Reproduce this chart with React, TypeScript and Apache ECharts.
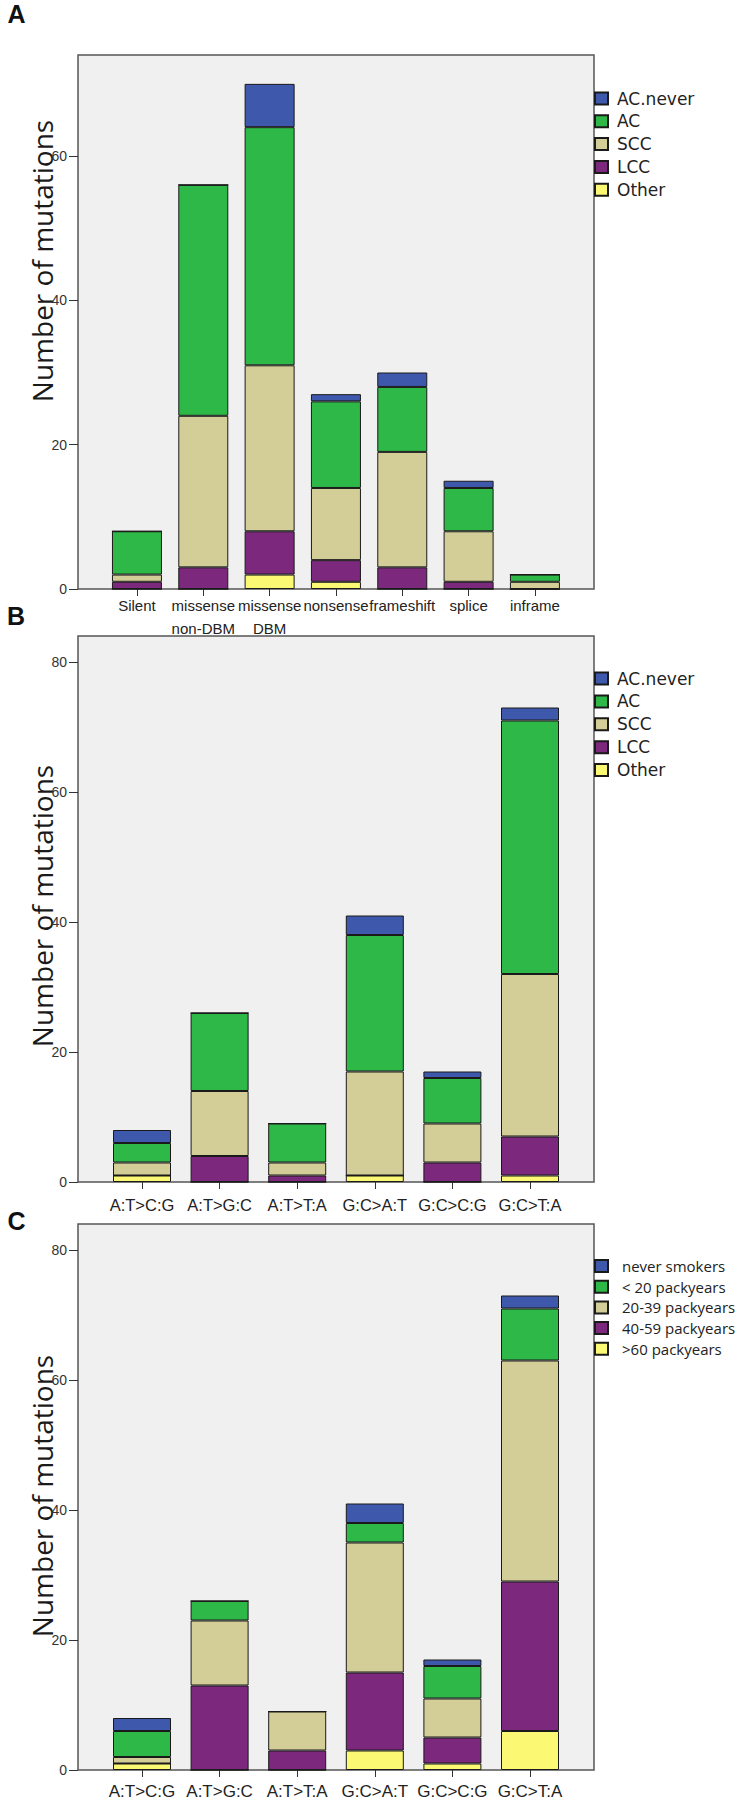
import { useEffect, useRef } from "react";
import * as echarts from "echarts";

// ---------- Panel A: mutation type by histology ----------
const mutationTypes = ["Silent", "missense\nnon-DBM", "missense\nDBM", "nonsense", "frameshift", "splice", "inframe"];
const histologyNames = ["AC.never", "AC", "SCC", "LCC", "Other"]; // legend order (top of stack first)
const typeACnever = [0, 0, 6, 1, 2, 1, 0];
const typeAC = [6, 32, 33, 12, 9, 6, 1];
const typeSCC = [1, 21, 23, 10, 16, 7, 1];
const typeLCC = [1, 3, 6, 3, 3, 1, 0];
const typeOther = [0, 0, 2, 1, 0, 0, 0];

// ---------- Panel B: base substitution by histology ----------
const substitutions = ["A:T>C:G", "A:T>G:C", "A:T>T:A", "G:C>A:T", "G:C>C:G", "G:C>T:A"];
const subACnever = [2, 0, 0, 3, 1, 2];
const subAC = [3, 12, 6, 21, 7, 39];
const subSCC = [2, 10, 2, 16, 6, 25];
const subLCC = [0, 4, 1, 0, 3, 6];
const subOther = [1, 0, 0, 1, 0, 1];

// ---------- Panel C: base substitution by smoking ----------
const smokingNames = ["never smokers", "< 20 packyears", "20-39 packyears", "40-59 packyears", ">60 packyears"];
const smkNever = [2, 0, 0, 3, 1, 2];
const smkLt20 = [4, 3, 0, 3, 5, 8];
const smk20to39 = [1, 10, 6, 20, 6, 34];
const smk40to59 = [0, 13, 3, 12, 4, 23];
const smkGt60 = [1, 0, 0, 3, 1, 6];

const yTicksA = [0, 20, 40, 60];
const yTicksBC = [0, 20, 40, 60, 80];
const yMaxA = 74;
const yMaxBC = 84;

const palette = ["#3E58AC", "#2EB848", "#D3CE97", "#7C287D", "#FBF873"];

const narrow = "'Liberation Sans', Arial, sans-serif";

function stackSeries(
  names: string[],
  values: number[][],
  stack: string,
  axisIndex: number,
  barWidth: number
) {
  // names/values given top-of-stack first; ECharts stacks first series at bottom
  const out: any[] = [];
  for (let i = names.length - 1; i >= 0; i--) {
    out.push({
      type: "bar",
      name: names[i],
      stack,
      xAxisIndex: axisIndex,
      yAxisIndex: axisIndex,
      barWidth,
      data: values[i],
      itemStyle: { color: palette[i], borderColor: "#1a1a1a", borderWidth: 1 },
      emphasis: { disabled: true },
    });
  }
  return out;
}

function frameGrid(top: number, height: number) {
  return {
    left: 78,
    top,
    width: 516,
    height,
    show: true,
    backgroundColor: "#F0F0F0",
    borderColor: "#555555",
    borderWidth: 1.5,
    outerBoundsMode: "none",
  };
}

function barGrid(left: number, top: number, width: number, height: number) {
  return { left, top, width, height, outerBoundsMode: "none" };
}

function frameY(gridIndex: number, max: number, ticks: number[]) {
  return {
    gridIndex,
    type: "value",
    min: 0,
    max,
    axisLine: { show: false },
    axisTick: { show: true, length: 9, customValues: ticks, lineStyle: { color: "#333", width: 1 } },
    axisLabel: { customValues: ticks, margin: 11, fontSize: 14, color: "#333", fontFamily: narrow },
    splitLine: { show: false },
  };
}

function barX(gridIndex: number, data: string[], margin: number, fontSize: number) {
  return {
    gridIndex,
    type: "category",
    data,
    axisLine: { show: false },
    axisTick: { show: true, alignWithLabel: true, length: 7, lineStyle: { color: "#333", width: 1 } },
    axisLabel: { interval: 0, fontSize, lineHeight: 23, margin, color: "#222", fontFamily: narrow },
  };
}

function legendAt(names: string[], top: number, fontSize: number, gap: number, textPad: number, family: string) {
  return {
    data: names,
    orient: "vertical",
    left: 594,
    top,
    padding: 0,
    icon: "rect",
    itemWidth: 13,
    itemHeight: 12,
    itemGap: gap,
    selectedMode: false,
    textStyle: {
      fontFamily: family,
      fontSize,
      lineHeight: 12,
      color: "#222",
      padding: [0, 0, 0, textPad],
    },
  };
}

function panelLetter(text: string, x: number, y: number) {
  return {
    type: "text",
    x,
    y,
    style: {
      text,
      fontSize: 25,
      fontWeight: "bold",
      fontFamily: "'Liberation Sans', Arial, sans-serif",
      fill: "#111",
      align: "center",
      verticalAlign: "middle",
    },
  };
}

function axisTitle(y: number) {
  return {
    type: "text",
    x: 42,
    y,
    rotation: Math.PI / 2,
    style: {
      text: "Number of mutations",
      fontSize: 28,
      fontFamily: "'Open Sans', sans-serif",
      fill: "#1a1a1a",
      align: "center",
      verticalAlign: "middle",
    },
  };
}

export default function App() {
  const ref = useRef<HTMLDivElement>(null);

  useEffect(() => {
    if (!ref.current) return;
    const chart = echarts.init(ref.current, null, { renderer: "svg" });

    const option: any = {
      animation: false,
      backgroundColor: "#ffffff",
      grid: [
        frameGrid(55, 534),
        barGrid(103.8, 55, 464.3, 534),
        frameGrid(636, 546),
        barGrid(103.2, 636, 465.6, 546),
        frameGrid(1224, 546),
        barGrid(103.2, 1224, 465.6, 546),
      ],
      xAxis: [
        { gridIndex: 0, type: "value", show: false },
        barX(1, mutationTypes, 5, 15),
        { gridIndex: 2, type: "value", show: false },
        barX(3, substitutions, 11, 16.5),
        { gridIndex: 4, type: "value", show: false },
        barX(5, substitutions, 10, 17),
      ],
      yAxis: [
        frameY(0, yMaxA, yTicksA),
        { gridIndex: 1, type: "value", min: 0, max: yMaxA, show: false },
        frameY(2, yMaxBC, yTicksBC),
        { gridIndex: 3, type: "value", min: 0, max: yMaxBC, show: false },
        frameY(4, yMaxBC, yTicksBC),
        { gridIndex: 5, type: "value", min: 0, max: yMaxBC, show: false },
      ],
      legend: [
        legendAt(histologyNames, 90, 17, 5.8, 4, "'DejaVu Sans', sans-serif"),
        legendAt(histologyNames, 670, 17, 5.9, 4, "'DejaVu Sans', sans-serif"),
        legendAt(smokingNames, 1258.5, 15, 5.7, 9, "'Open Sans', sans-serif"),
      ],
      series: [
        ...stackSeries(histologyNames, [typeACnever, typeAC, typeSCC, typeLCC, typeOther], "A", 1, 50),
        ...stackSeries(histologyNames, [subACnever, subAC, subSCC, subLCC, subOther], "B", 3, 58),
        ...stackSeries(smokingNames, [smkNever, smkLt20, smk20to39, smk40to59, smkGt60], "C", 5, 58),
      ],
      graphic: [
        panelLetter("A", 16.5, 14),
        panelLetter("B", 16, 615.5),
        panelLetter("C", 16.5, 1221),
        axisTitle(261),
        axisTitle(906),
        axisTitle(1496),
      ],
    };

    chart.setOption(option);
    return () => chart.dispose();
  }, []);

  return (
    <div
      ref={ref}
      style={{ position: "absolute", left: 0, top: 0, width: 739, height: 1807 }}
    />
  );
}
